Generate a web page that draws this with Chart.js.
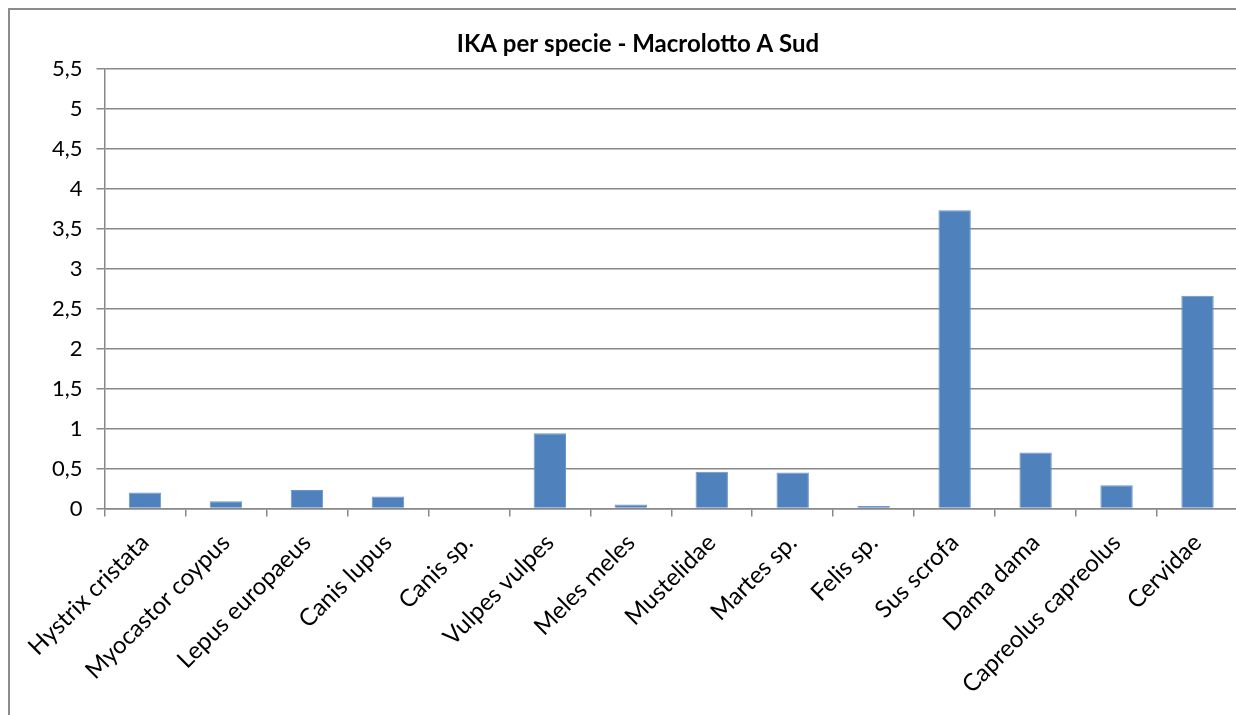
<!DOCTYPE html>
<html>
<head>
<meta charset="utf-8">
<script src="https://cdn.jsdelivr.net/npm/chart.js@4/dist/chart.umd.min.js"></script>
<style>
  html, body { margin: 0; padding: 0; background: #fff; overflow: hidden; }
  #frame {
    position: absolute; left: 8px; top: 8px;
    width: 1244px; height: 720px;
    border-left: 2px solid #8c8c8c; border-top: 2px solid #8c8c8c;
  }
  #wrap { position: absolute; left: 0; top: 0; width: 1244px; height: 705px; }
</style>
</head>
<body>
<div id="frame"><div id="wrap"><canvas id="chart"></canvas></div></div>
<script>
const species = ['Hystrix cristata', 'Myocastor coypus', 'Lepus europaeus', 'Canis lupus', 'Canis sp.',
  'Vulpes vulpes', 'Meles meles', 'Mustelidae', 'Martes sp.', 'Felis sp.', 'Sus scrofa',
  'Dama dama', 'Capreolus capreolus', 'Cervidae'];
const ikaValues = [0.20, 0.09, 0.23, 0.15, 0, 0.94, 0.05, 0.46, 0.45, 0.03, 3.73, 0.70, 0.29, 2.66];
const yMin = 0, yMax = 5.5, yStep = 0.5;

const gridGray = '#888888';
const fontFamily = 'Lato, "Open Sans", sans-serif';

new Chart(document.getElementById('chart'), {
  type: 'bar',
  data: {
    labels: species,
    datasets: [{
      label: 'IKA',
      data: ikaValues,
      backgroundColor: '#4f81bd',
      borderColor: '#6d96c8',
      borderWidth: 1,
      categoryPercentage: 0.8,
      barPercentage: 0.5
    }]
  },
  options: {
    responsive: true,
    maintainAspectRatio: false,
    animation: false,
    layout: { padding: { left: 28, right: 16, top: 0, bottom: 4 } },
    plugins: {
      legend: { display: false },
      tooltip: { enabled: false },
      title: {
        display: true,
        text: 'IKA per specie - Macrolotto A Sud',
        color: '#000',
        font: { family: fontFamily, size: 24, weight: 'bold' },
        padding: { top: 20, bottom: 10 }
      }
    },
    scales: {
      x: {
        grid: { offset: true, drawOnChartArea: false, drawTicks: true, tickLength: 8, color: gridGray, lineWidth: 1.5 },
        border: { color: gridGray, width: 1.5 },
        ticks: {
          color: '#000', font: { family: fontFamily, size: 24 },
          minRotation: 45, maxRotation: 45, autoSkip: false, padding: 12
        }
      },
      y: {
        min: yMin, max: yMax,
        grid: { color: gridGray, lineWidth: 1.5, tickLength: 8 },
        border: { color: gridGray, width: 1.5 },
        ticks: {
          stepSize: yStep, color: '#000', font: { family: fontFamily, size: 22 }, padding: 14,
          callback: v => String(v).replace('.', ',')
        }
      }
    }
  }
});
</script>
</body>
</html>
